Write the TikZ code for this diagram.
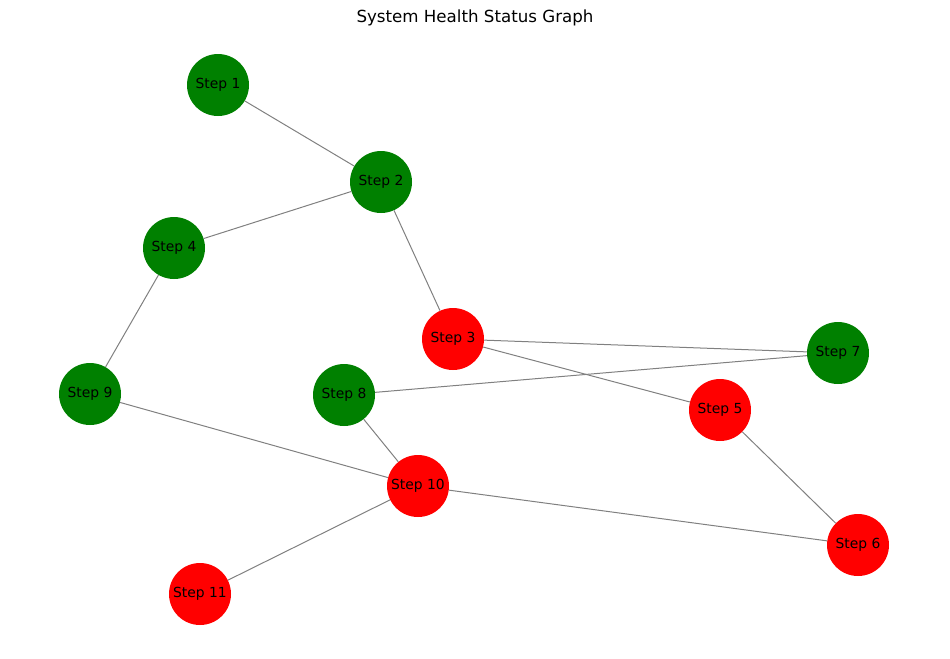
\documentclass[tikz,border=0pt]{standalone}
\usepackage{fontspec}
\setmainfont{DejaVu Sans}
\definecolor{ngreen}{HTML}{008000}
\definecolor{nred}{HTML}{FF0000}
\definecolor{egray}{HTML}{808080}
\begin{document}
\begin{tikzpicture}[x=0.75pt,y=-0.75pt,
  nodebase/.style={circle,inner sep=0pt,minimum size=46.5pt,font=\fontsize{10.4}{12}\selectfont},
  okbox/.style={nodebase,fill=ngreen},
  badbox/.style={nodebase,fill=nred},
  edge/.style={draw=egray,line width=0.75pt}]
\useasboundingbox (0,0) rectangle (950,658);
\node[font=\fontsize{12.5}{15}\selectfont] (title) at (475,18) {System Health Status Graph};
\node[okbox] (s1) at (218,85) {Step 1};
\node[okbox] (s2) at (381,182) {Step 2};
\node[okbox] (s4) at (174,248) {Step 4};
\node[badbox] (s3) at (453,339) {Step 3};
\node[okbox] (s7) at (838,353) {Step 7};
\node[okbox] (s9) at (90,394) {Step 9};
\node[okbox] (s8) at (344,395) {Step 8};
\node[badbox] (s5) at (720,410) {Step 5};
\node[badbox] (s10) at (418,486) {Step 10};
\node[badbox] (s6) at (858,545) {Step 6};
\node[badbox] (s11) at (200,594) {Step 11};
\draw[edge] (s1) -- (s2);
\draw[edge] (s2) -- (s4);
\draw[edge] (s2) -- (s3);
\draw[edge] (s4) -- (s9);
\draw[edge] (s3) -- (s7);
\draw[edge] (s3) -- (s5);
\draw[edge] (s8) -- (s7);
\draw[edge] (s8) -- (s10);
\draw[edge] (s9) -- (s10);
\draw[edge] (s10) -- (s6);
\draw[edge] (s10) -- (s11);
\draw[edge] (s5) -- (s6);
\end{tikzpicture}
\end{document}
